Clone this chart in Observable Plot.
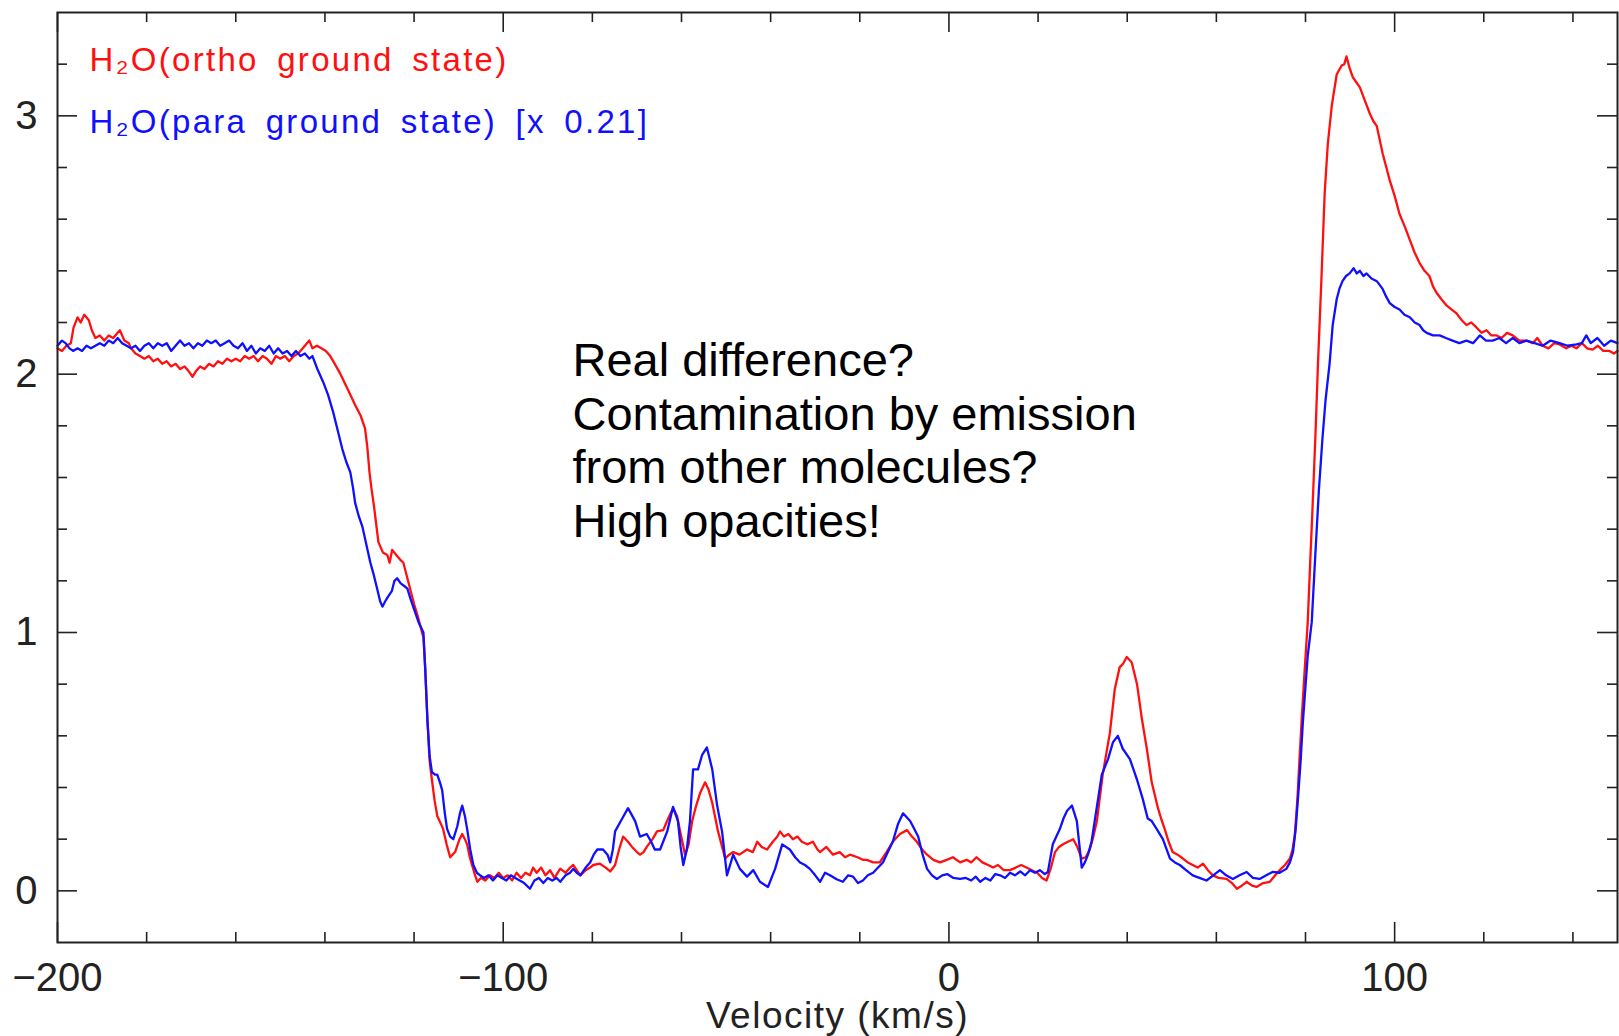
<!DOCTYPE html>
<html>
<head>
<meta charset="utf-8">
<script src="https://cdn.jsdelivr.net/npm/d3@7"></script>
<script src="https://cdn.jsdelivr.net/npm/@observablehq/plot@0.6"></script>
<style>
  html, body { margin: 0; padding: 0; background: #fff; }
</style>
</head>
<body>
<div id="chart"></div>
<script>
// ---------- data (velocity km/s, intensity) ----------
const orthoProfile = [
[-200,2.10],[-199,2.09],[-198,2.11],[-197,2.12],[-196.4,2.18],[-195.5,2.22],[-194.8,2.20],[-194,2.23],[-193,2.21],[-192.3,2.17],
[-191.5,2.14],[-190.5,2.15],[-189.5,2.13],[-188.5,2.15],[-187.5,2.14],[-186.5,2.16],[-186,2.17],[-185,2.13],[-184,2.12],[-183.5,2.10],
[-182.5,2.08],[-181.5,2.07],[-180.5,2.06],[-179.5,2.07],[-178.5,2.05],[-177.5,2.06],[-176.5,2.04],[-175.5,2.05],[-174.5,2.03],[-173.5,2.04],
[-172.5,2.02],[-171.5,2.03],[-170.5,2.01],[-169.7,1.99],[-169,2.01],[-168,2.03],[-167,2.02],[-166,2.04],[-165,2.03],[-164,2.05],
[-163,2.04],[-162,2.06],[-161,2.05],[-160,2.06],[-159,2.05],[-158,2.07],[-157,2.06],[-156,2.07],[-155,2.05],[-154,2.07],
[-153,2.06],[-152,2.04],[-151,2.07],[-150,2.06],[-149,2.07],[-148,2.05],[-147,2.07],[-146,2.08],[-145.5,2.09],[-144.5,2.11],
[-143.5,2.13],[-142.8,2.10],[-141.8,2.11],[-140.8,2.10],[-139.8,2.09],[-138.8,2.07],[-137.8,2.04],[-136.5,2.00],[-135.4,1.96],[-134.3,1.92],
[-133.2,1.88],[-132,1.84],[-131,1.79],[-130.5,1.72],[-130,1.62],[-129.5,1.55],[-129,1.49],[-128.5,1.42],[-128,1.35],[-127,1.31],
[-126,1.30],[-125.5,1.27],[-124.9,1.32],[-124,1.30],[-123,1.28],[-122.4,1.27],[-121.5,1.21],[-120.9,1.17],[-120,1.11],[-119.3,1.07],
[-118.5,1.02],[-117.9,0.98],[-117.5,0.86],[-117,0.66],[-116.5,0.50],[-116,0.43],[-115.4,0.35],[-114.8,0.29],[-114,0.26],[-113.5,0.24],
[-112.7,0.18],[-111.9,0.13],[-110.8,0.15],[-109.8,0.20],[-109.2,0.22],[-108.6,0.20],[-108.1,0.18],[-107.5,0.13],[-107,0.10],[-106.3,0.06],
[-105.8,0.035],[-105,0.05],[-104,0.04],[-103,0.06],[-102,0.05],[-101,0.07],[-100,0.05],[-99,0.06],[-98,0.04],[-97,0.07],
[-96,0.05],[-95,0.07],[-94,0.06],[-93.3,0.09],[-92.5,0.07],[-91.5,0.09],[-90.5,0.06],[-89.5,0.08],[-88.5,0.05],[-87.2,0.086],
[-86,0.07],[-85,0.09],[-84.3,0.10],[-83.5,0.08],[-82.7,0.06],[-81.5,0.08],[-80.5,0.09],[-79.8,0.10],[-78.3,0.105],[-77,0.09],
[-76,0.075],[-74.9,0.10],[-74,0.16],[-73.1,0.21],[-72,0.19],[-71.1,0.17],[-70,0.15],[-69.3,0.14],[-68.5,0.15],[-67.8,0.17],
[-66.5,0.20],[-65.5,0.23],[-64.1,0.235],[-63,0.28],[-61.9,0.32],[-61,0.29],[-60.3,0.23],[-59.2,0.14],[-58.4,0.18],[-57.6,0.27],
[-56.7,0.33],[-55.8,0.38],[-54.7,0.42],[-53.9,0.39],[-53.1,0.34],[-51.8,0.23],[-50.2,0.125],[-49.3,0.14],[-48.4,0.15],[-47,0.14],
[-45.3,0.16],[-44,0.15],[-43,0.19],[-42,0.17],[-40.8,0.16],[-39.5,0.19],[-38.5,0.21],[-37.9,0.23],[-37,0.21],[-36,0.22],
[-35,0.20],[-34,0.21],[-33,0.19],[-31.8,0.18],[-30.5,0.19],[-29.5,0.16],[-28.9,0.15],[-27.5,0.17],[-26,0.14],[-24.5,0.15],
[-23.3,0.13],[-22.2,0.14],[-20.5,0.13],[-19.3,0.12],[-18.4,0.12],[-17,0.11],[-15.5,0.11],[-14,0.15],[-12.6,0.19],[-11,0.22],
[-9.4,0.235],[-8.3,0.21],[-7.2,0.19],[-6,0.16],[-4.9,0.14],[-3.5,0.12],[-2,0.11],[-0.5,0.12],[0.9,0.13],[2.5,0.11],
[4,0.12],[5,0.11],[6.2,0.13],[7.5,0.11],[8.8,0.10],[9.9,0.09],[11,0.10],[12.3,0.08],[13.7,0.08],[15,0.09],
[16.2,0.10],[17.4,0.09],[18.6,0.08],[19.8,0.07],[20.9,0.05],[21.9,0.04],[22.9,0.09],[23.8,0.15],[24.7,0.17],[25.6,0.18],
[26.7,0.19],[27.9,0.20],[28.8,0.17],[29.8,0.125],[30.7,0.13],[31.6,0.16],[32.4,0.21],[33.2,0.27],[34.5,0.45],[35.3,0.53],
[36.1,0.61],[37.2,0.78],[38.3,0.865],[39.1,0.88],[39.9,0.905],[41,0.885],[42.2,0.80],[43.3,0.665],[44.4,0.55],[45.5,0.42],
[46.9,0.32],[47.6,0.28],[48.4,0.24],[49.3,0.19],[50.2,0.15],[51.3,0.14],[52.5,0.125],[53.6,0.11],[54.7,0.10],[55.8,0.09],
[57,0.105],[58.1,0.08],[59.2,0.06],[60.5,0.05],[62.3,0.046],[63.5,0.03],[64.6,0.008],[65.7,0.02],[66.8,0.035],[68,0.02],
[69,0.015],[70.5,0.03],[72,0.035],[73.2,0.06],[74.2,0.08],[75.4,0.10],[76.5,0.125],[77.1,0.16],[77.6,0.215],[78.2,0.36],
[78.7,0.525],[79.2,0.68],[79.8,0.85],[80.5,1.04],[81,1.25],[81.5,1.45],[82.2,1.75],[82.8,2.04],[83.6,2.38],[84.3,2.70],
[85,2.89],[85.9,3.04],[87,3.16],[88.1,3.195],[88.7,3.20],[89.2,3.23],[89.8,3.19],[90.6,3.15],[91.4,3.13],[92.2,3.11],
[93.3,3.06],[94.4,3.01],[95.2,2.98],[96,2.96],[97.3,2.855],[98.9,2.75],[100,2.69],[101.1,2.62],[102.3,2.57],[103.4,2.52],
[104.5,2.47],[105.6,2.43],[106.7,2.40],[107.8,2.38],[108.6,2.34],[109.4,2.315],[110.5,2.29],[111.7,2.265],[112.8,2.25],[113.9,2.235],
[115,2.21],[116.1,2.19],[117.2,2.20],[118.4,2.18],[119.5,2.16],[120.6,2.17],[121.7,2.15],[122.9,2.15],[124,2.14],[125.2,2.16],
[126.5,2.15],[128,2.13],[129.6,2.13],[131,2.12],[132,2.14],[133.2,2.11],[134.5,2.10],[135.8,2.12],[137,2.115],[138.5,2.10],
[139.7,2.11],[140.8,2.10],[142,2.12],[143.2,2.10],[144.4,2.095],[145.6,2.11],[146.8,2.09],[148.2,2.09],[149.2,2.08],[150,2.09]
];

const paraProfile = [
[-200,2.11],[-199,2.13],[-198.2,2.12],[-197.3,2.10],[-196.5,2.09],[-195.5,2.10],[-194.5,2.09],[-193.5,2.11],[-192.5,2.10],[-191.5,2.11],
[-190.5,2.12],[-189.5,2.11],[-188.5,2.13],[-187.5,2.12],[-186.5,2.14],[-185.5,2.12],[-184.5,2.11],[-183.5,2.10],[-182.5,2.11],[-181.5,2.09],
[-180.5,2.11],[-179.5,2.12],[-178.5,2.10],[-177.5,2.12],[-176.5,2.11],[-175.5,2.12],[-174.5,2.09],[-173.5,2.11],[-172.5,2.13],[-171.5,2.11],
[-170.5,2.12],[-169.5,2.10],[-168.5,2.12],[-167.5,2.11],[-166.5,2.13],[-165.5,2.12],[-164.5,2.13],[-163.5,2.11],[-162.5,2.12],[-161.5,2.13],
[-160.5,2.11],[-159.5,2.10],[-158.5,2.12],[-157.5,2.09],[-156.5,2.11],[-155.5,2.08],[-154.5,2.10],[-153.5,2.09],[-152.5,2.11],[-151.5,2.08],
[-150.5,2.10],[-149.5,2.08],[-148.5,2.09],[-147.5,2.07],[-146.5,2.09],[-145.5,2.07],[-144.5,2.08],[-143.5,2.06],[-142.8,2.07],[-141.7,2.02],
[-140.4,1.97],[-139.3,1.92],[-138.1,1.85],[-137.1,1.78],[-136.1,1.71],[-135.2,1.66],[-134.3,1.62],[-133.7,1.56],[-133.2,1.50],[-132.4,1.45],
[-131.6,1.41],[-130.7,1.34],[-129.8,1.27],[-129,1.22],[-128.3,1.17],[-127.6,1.12],[-127.1,1.10],[-126.5,1.12],[-125.8,1.14],[-125,1.16],
[-124.4,1.20],[-123.8,1.21],[-123,1.19],[-122.2,1.18],[-121.5,1.17],[-120.8,1.13],[-120.2,1.10],[-119,1.04],[-117.9,1.00],[-117.5,0.86],
[-117,0.66],[-116.5,0.52],[-116,0.46],[-115.3,0.45],[-114.8,0.45],[-114.2,0.42],[-113.7,0.39],[-113.1,0.30],[-112.6,0.24],[-111.9,0.21],
[-111.2,0.20],[-110.3,0.25],[-109.7,0.30],[-109.2,0.33],[-108.6,0.29],[-108.1,0.24],[-107.4,0.16],[-106.7,0.10],[-105.9,0.07],[-105.2,0.06],
[-104.3,0.05],[-103.3,0.06],[-102.3,0.04],[-101.3,0.06],[-100.3,0.05],[-99.3,0.04],[-98.3,0.06],[-97.3,0.05],[-96.3,0.04],[-95.3,0.03],
[-94,0.008],[-93,0.04],[-92,0.05],[-91,0.03],[-90,0.05],[-89,0.04],[-88,0.05],[-87.2,0.035],[-86,0.06],[-85,0.07],
[-84.3,0.085],[-83.5,0.07],[-82.7,0.06],[-81.5,0.09],[-80.5,0.11],[-79.7,0.14],[-78.9,0.16],[-77.6,0.16],[-76.6,0.14],[-76,0.11],
[-75.4,0.16],[-74.9,0.23],[-73.3,0.28],[-72,0.32],[-70.4,0.27],[-69.3,0.21],[-67.8,0.22],[-66.8,0.19],[-66,0.16],[-64.8,0.16],
[-63.2,0.23],[-61.9,0.325],[-60.8,0.27],[-60.2,0.17],[-59.6,0.10],[-58.8,0.16],[-58.1,0.27],[-57.4,0.47],[-56.3,0.47],[-55.4,0.525],
[-54.3,0.555],[-53.1,0.47],[-52,0.33],[-50.9,0.23],[-49.8,0.06],[-48.4,0.14],[-46.9,0.085],[-45.3,0.055],[-43.9,0.08],[-42.4,0.035],
[-40.6,0.015],[-39,0.085],[-37.4,0.18],[-35.7,0.16],[-34.5,0.13],[-33.4,0.11],[-32.3,0.10],[-31.2,0.085],[-30,0.06],[-28.9,0.035],
[-27.8,0.07],[-26.7,0.06],[-25.2,0.045],[-23.8,0.035],[-22.6,0.06],[-21.5,0.055],[-20.4,0.03],[-19.3,0.04],[-18.2,0.06],[-17,0.07],
[-15.9,0.09],[-14.8,0.11],[-13.7,0.15],[-12.6,0.19],[-11.4,0.26],[-10.3,0.30],[-8.7,0.27],[-6.9,0.21],[-5.9,0.14],[-4.9,0.085],
[-3.8,0.06],[-2.7,0.046],[-1.5,0.06],[-0.4,0.065],[1,0.05],[2.5,0.046],[3.8,0.05],[5,0.04],[6,0.055],[7,0.035],
[8.2,0.05],[9.3,0.04],[10.4,0.065],[11.5,0.06],[12.6,0.05],[13.7,0.07],[14.8,0.06],[16,0.075],[17.1,0.06],[18.2,0.08],
[19.3,0.07],[20.4,0.08],[21.5,0.065],[22.2,0.073],[23.3,0.18],[24.9,0.24],[25.7,0.28],[26.5,0.31],[27.6,0.33],[28.7,0.27],
[29.8,0.09],[30.5,0.11],[31.2,0.14],[32,0.19],[32.7,0.27],[34.3,0.45],[35.7,0.51],[36.8,0.575],[37.9,0.60],[39,0.55],
[40.6,0.51],[41.4,0.47],[42.2,0.43],[43.5,0.355],[44.6,0.28],[45.5,0.27],[46.6,0.24],[48,0.20],[49.6,0.125],[50.7,0.11],
[51.8,0.10],[53.2,0.08],[54.7,0.06],[56.2,0.05],[57.8,0.04],[59.3,0.06],[60.8,0.08],[62.2,0.06],[63.7,0.046],[65.2,0.06],
[66.8,0.073],[68.2,0.05],[69.7,0.046],[71.2,0.06],[72.6,0.073],[74.2,0.07],[75.7,0.085],[76.5,0.11],[77.2,0.15],[77.8,0.24],
[78.3,0.355],[78.9,0.50],[79.4,0.65],[80.5,0.91],[81.4,1.04],[82.2,1.30],[83,1.55],[83.8,1.75],[84.5,1.90],[85.4,2.04],
[86.1,2.19],[87,2.29],[87.6,2.33],[88.3,2.36],[89.1,2.38],[89.9,2.39],[90.8,2.41],[91.5,2.39],[92.2,2.40],[93,2.38],
[93.7,2.39],[94.8,2.37],[96,2.36],[97.3,2.33],[98.1,2.30],[98.9,2.275],[100,2.26],[101.1,2.25],[102.2,2.23],[103.4,2.22],
[104.5,2.20],[105.6,2.19],[106.4,2.17],[107.2,2.16],[108.6,2.15],[110.1,2.15],[111.5,2.14],[113,2.13],[114.5,2.12],[116.1,2.13],
[117.6,2.12],[119.1,2.15],[120.5,2.13],[122,2.13],[123.5,2.14],[125,2.12],[126.5,2.14],[128,2.12],[129.6,2.13],[131.4,2.12],
[133.2,2.11],[135,2.13],[137,2.12],[138.8,2.11],[140.8,2.115],[142,2.12],[143,2.15],[144,2.12],[145.5,2.14],[147,2.11],
[148.5,2.13],[150,2.12]
];

const xMajorTicks = [-200, -100, 0, 100];
const xMinorTicks = [-180, -160, -140, -120, -80, -60, -40, -20, 20, 40, 60, 80, 120, 140];
const yMajorTicks = [0, 1, 2, 3];
const yMinorTicks = [0.2, 0.4, 0.6, 0.8, 1.2, 1.4, 1.6, 1.8, 2.2, 2.4, 2.6, 2.8, 3.2];
const xLabel = "Velocity (km/s)";
const legendOrtho = "H₂O(ortho ground state)";
const legendPara = "H₂O(para ground state) [x 0.21]";
const annotation = "Real difference?\nContamination by emission\nfrom other molecules?\nHigh opacities!";

// ---------- layout ----------
const W = 1619, H = 1036;
const mL = 57, mR = 2, mT = 12, mB = 94;
const innerW = W - mL - mR, innerH = H - mT - mB;
const RED = "#ff1010", BLUE = "#1010ff", INK = "#222";
const FONT = "Liberation Sans, Arial, Helvetica, sans-serif";

const ortho = orthoProfile.map(([v, t]) => ({v, t}));
const para = paraProfile.map(([v, t]) => ({v, t}));

const chart = Plot.plot({
  width: W, height: H,
  marginLeft: mL, marginRight: mR, marginTop: mT, marginBottom: mB,
  x: {domain: [-200, 150], label: null},
  y: {domain: [-0.2, 3.4], label: null},
  style: {fontFamily: FONT, fontSize: "40px", color: INK, background: "#fff"},
  marks: [
    // inward ticks
    Plot.tickX(xMinorTicks, {insetTop: innerH - 10, stroke: INK, strokeWidth: 1.6}),
    Plot.tickX(xMajorTicks, {insetTop: innerH - 20, stroke: INK, strokeWidth: 1.6}),
    Plot.tickX(xMinorTicks, {insetBottom: innerH - 10, stroke: INK, strokeWidth: 1.6}),
    Plot.tickX(xMajorTicks, {insetBottom: innerH - 20, stroke: INK, strokeWidth: 1.6}),
    Plot.tickY(yMinorTicks, {insetRight: innerW - 10, stroke: INK, strokeWidth: 1.6}),
    Plot.tickY(yMajorTicks, {insetRight: innerW - 20, stroke: INK, strokeWidth: 1.6}),
    Plot.tickY(yMinorTicks, {insetLeft: innerW - 10, stroke: INK, strokeWidth: 1.6}),
    Plot.tickY(yMajorTicks, {insetLeft: innerW - 20, stroke: INK, strokeWidth: 1.6}),
    Plot.axisX(xMajorTicks, {tickSize: 0, tickPadding: 20, fontSize: 40, label: null}),
    Plot.axisY(yMajorTicks, {tickSize: 0, tickPadding: 20, fontSize: 40, label: null, tickFormat: d3.format("d")}),
    // spectra
    Plot.line(ortho, {x: "v", y: "t", stroke: RED, strokeWidth: 2.3, strokeLinejoin: "round"}),
    Plot.line(para, {x: "v", y: "t", stroke: BLUE, strokeWidth: 2.3, strokeLinejoin: "round"}),
    // legend
    Plot.text([legendOrtho], {frameAnchor: "top-left", dx: 32, dy: 48, textAnchor: "start", lineAnchor: "middle",
      fill: RED, fontSize: 33}),
    Plot.text([legendPara], {frameAnchor: "top-left", dx: 32, dy: 110, textAnchor: "start", lineAnchor: "middle",
      fill: BLUE, fontSize: 33}),
    // annotation
    Plot.text([annotation], {frameAnchor: "top-left", dx: 515, dy: 427, textAnchor: "start", lineAnchor: "middle",
      fill: "#000", fontSize: 47, lineHeight: 1.14}),
    // axis title
    Plot.text([xLabel], {frameAnchor: "bottom", dy: 74, lineAnchor: "middle", fill: INK, fontSize: 37}),
    Plot.frame({stroke: INK, strokeWidth: 2})
  ]
});

chart.querySelectorAll("text").forEach(t => {
  const s = t.textContent;
  if (s === legendOrtho || s === legendPara) {
    t.setAttribute("letter-spacing", "2.3");
    t.setAttribute("word-spacing", "7");
  } else if (s === xLabel) {
    t.setAttribute("letter-spacing", "1.5");
  }
});

document.getElementById("chart").appendChild(chart);
</script>
</body>
</html>
